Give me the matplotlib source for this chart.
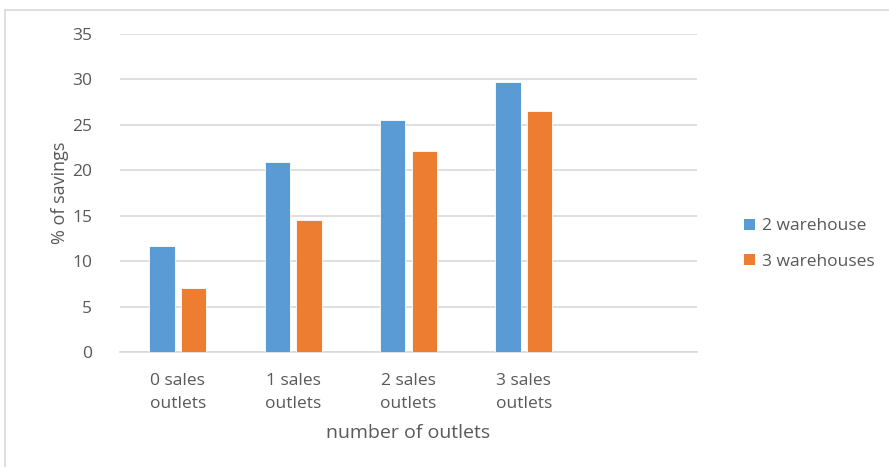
import matplotlib
matplotlib.use("Agg")
import matplotlib.pyplot as plt
import numpy as np
from matplotlib.patches import Patch
from matplotlib.lines import Line2D

categories = ["0 sales\noutlets", "1 sales\noutlets", "2 sales\noutlets", "3 sales\noutlets", ""]
series_names = ["2 warehouse", "3 warehouses"]
two_wh = [11.7, 20.9, 25.5, 29.7, np.nan]
three_wh = [7.0, 14.5, 22.1, 26.5, np.nan]
yticks = [0, 5, 10, 15, 20, 25, 30, 35]

colors = ["#5B9BD5", "#ED7D31"]
text_color = "#595959"
plt.rcParams['font.family'] = ['Open Sans', 'DejaVu Sans']

W, H = 889, 467
fig = plt.figure(figsize=(W / 100, H / 100), dpi=100)
ax = fig.add_axes([120 / W, 1 - 352 / H, (697 - 120) / W, (352 - 34) / H])

x = np.arange(len(categories))
bw = 0.22
gap = 0.055
ax.bar(x - (bw + gap) / 2, two_wh, bw, color=colors[0], edgecolor="white", linewidth=0.6, zorder=3)
ax.bar(x + (bw + gap) / 2, three_wh, bw, color=colors[1], edgecolor="white", linewidth=0.6, zorder=3)

ax.set_xlim(-0.5, len(categories) - 0.5)
ax.set_ylim(0, 35)
ax.set_yticks(yticks)
ax.set_yticklabels([str(t) for t in yticks], fontsize=12.5)
ax.set_xticks(x)
ax.set_xticklabels(categories, linespacing=1.6, fontsize=12.5)
ax.yaxis.grid(True, color="#D9D9D9", linewidth=1.2, zorder=0)
for s in ["top", "right", "left"]:
    ax.spines[s].set_visible(False)
ax.spines["bottom"].set_color("#D9D9D9")
ax.spines["bottom"].set_linewidth(1.2)
ax.tick_params(axis="both", length=0, colors=text_color)
ax.tick_params(axis="y", pad=20)
ax.tick_params(axis="x", pad=15)

ax.set_ylabel("% of savings", color=text_color, fontsize=13)
ax.yaxis.set_label_coords(-(120 - 69) / (697 - 120), 0.5)
ax.set_xlabel("number of outlets", color=text_color, fontsize=14)
ax.xaxis.set_label_coords(0.5, -(424 - 352) / (352 - 34))

handles = [Patch(facecolor=c, edgecolor="none") for c in colors]
fig.legend(handles, series_names, loc="center left", bbox_to_anchor=(728 / W, 1 - 244 / H),
           frameon=False, fontsize=12.5, labelcolor=text_color, handlelength=0.65,
           handleheight=0.65, handletextpad=0.4, labelspacing=1.1)

# outer chart border (top and left edges visible)
fig.add_artist(Line2D([5 / W, 1], [1 - 10 / H, 1 - 10 / H], transform=fig.transFigure, color="#D9D9D9", linewidth=1.2))
fig.add_artist(Line2D([5 / W, 5 / W], [0, 1 - 10 / H], transform=fig.transFigure, color="#D9D9D9", linewidth=1.2))

fig.savefig("out.png", dpi=100, facecolor="white")
